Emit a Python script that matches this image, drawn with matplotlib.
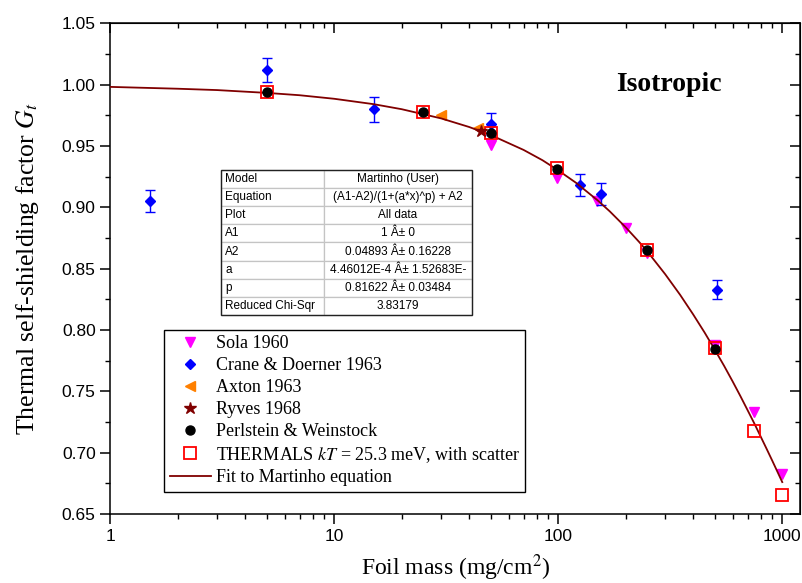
#!/usr/bin/env python3
"""Thermal self-shielding factor vs foil mass, isotropic case."""

import matplotlib
matplotlib.use("Agg")
import matplotlib.pyplot as plt
from matplotlib.lines import Line2D
from matplotlib.patches import Rectangle
from matplotlib.ticker import MultipleLocator, FormatStrFormatter, FuncFormatter, NullFormatter

# --- data ------------------------------------------------------------------
sola_x = [50, 99, 149, 200, 250, 500, 750, 1000]
sola_y = [0.951, 0.924, 0.905, 0.883, 0.863, 0.788, 0.733, 0.683]

crane_x = [1.51, 5, 15, 50, 125, 155, 510]
crane_y = [0.905, 1.012, 0.980, 0.968, 0.918, 0.911, 0.833]
crane_err = [0.009, 0.010, 0.010, 0.009, 0.009, 0.009, 0.008]

axton_x = [30, 44]
axton_y = [0.975, 0.965]

ryves_x = [45]
ryves_y = [0.962]

perl_x = [5, 25, 50, 99, 250, 500]
perl_y = [0.994, 0.978, 0.961, 0.931, 0.865, 0.7845]

therm_x = [5, 25, 50, 99, 250, 500, 750, 1000]
therm_y = [0.994, 0.978, 0.961, 0.932, 0.865, 0.785, 0.718, 0.6655]

# fit curve
fit_x = [1, 2, 3, 5, 7, 10, 15, 20, 30, 40, 50, 70, 85, 100, 120, 150, 170,
         200, 230, 250, 300, 350, 400, 450, 500, 550, 600, 650, 700, 750,
         850, 900, 1000]
fit_y = [0.9983, 0.9968, 0.9957, 0.9934, 0.9915, 0.9886, 0.9842, 0.9801,
         0.9726, 0.9656, 0.9590, 0.9469, 0.9385, 0.9302, 0.9201, 0.9057,
         0.8967, 0.8838, 0.8717, 0.8640, 0.8456, 0.8287, 0.8128, 0.7980,
         0.7839, 0.7708, 0.7582, 0.7462, 0.7347, 0.7239, 0.7034, 0.6939,
         0.6760]

legend_labels = [
    "Sola 1960",
    "Crane & Doerner 1963",
    "Axton 1963",
    "Ryves 1968",
    "Perlstein & Weinstock",
    "THERMALS $kT$ = 25.3 meV, with scatter",
    "Fit to Martinho equation",
]

table_keys = ["Model", "Equation", "Plot", "A1", "A2", "a", "p", "Reduced Chi-Sqr"]
table_vals = [
    "Martinho (User)",
    "(A1-A2)/(1+(a*x)^p) + A2",
    "All data",
    "1 Â± 0",
    "0.04893 Â± 0.16228",
    "4.46012E-4 Â± 1.52683E-",
    "0.81622 Â± 0.03484",
    "3.83179",
]

SOLA_C = "#ff00ff"
CRANE_C = "#0000ff"
AXTON_C = "#ff8000"
RYVES_C = "#800000"
PERL_C = "black"
THERM_C = "#ff0000"
FIT_C = "#800000"

SERIF = "Liberation Serif"
SANS = "Liberation Sans"

plt.rcParams["mathtext.fontset"] = "stix"

fig = plt.figure(figsize=(8.02, 5.83), dpi=100)
ax = fig.add_axes([0.1375, 0.1184, 0.86, 0.8413])
ax.set_xscale("log")
ax.set_xlim(1, 1200)
ax.set_ylim(0.65, 1.05)

# markers
ax.plot(sola_x, sola_y, ls="none", marker="v", ms=7, color=SOLA_C, zorder=3)
ax.errorbar(crane_x, crane_y, yerr=crane_err, fmt="D", ms=5.5, color=CRANE_C,
            ecolor=CRANE_C, elinewidth=1.0, capsize=3.5, capthick=1.0, zorder=4)
ax.plot(axton_x, axton_y, ls="none", marker="<", ms=7.5, color=AXTON_C, zorder=3)
ax.plot(fit_x, fit_y, color=FIT_C, lw=1.3, zorder=4.5)
ax.plot(therm_x, therm_y, ls="none", marker="s", ms=8.5, mfc="none",
        mec=THERM_C, mew=1.3, zorder=5)
ax.plot(perl_x, perl_y, ls="none", marker="o", ms=6.5, color=PERL_C, zorder=6)
ax.plot(ryves_x, ryves_y, ls="none", marker="*", ms=9, color=RYVES_C, zorder=7)

# axes styling
for sp in ax.spines.values():
    sp.set_linewidth(1.1)
ax.xaxis.set_major_formatter(FuncFormatter(lambda v, p: f"{v:g}"))
ax.xaxis.set_minor_formatter(NullFormatter())
ax.yaxis.set_major_locator(MultipleLocator(0.05))
ax.yaxis.set_minor_locator(MultipleLocator(0.025))
ax.yaxis.set_major_formatter(FormatStrFormatter("%.2f"))
ax.tick_params(which="major", direction="out", length=7.5, width=1.1,
               labelsize=12.5, pad=3)
ax.tick_params(which="minor", direction="out", length=3.8, width=1.0)
for lab in ax.get_xticklabels() + ax.get_yticklabels():
    lab.set_fontfamily(SANS)

top = ax.secondary_xaxis("top")
top.tick_params(which="major", direction="in", length=7, width=1.1, labeltop=False)
top.tick_params(which="minor", direction="in", length=3.8, width=1.0)
top.xaxis.set_major_formatter(NullFormatter())
top.xaxis.set_minor_formatter(NullFormatter())

right = ax.secondary_yaxis("right")
right.yaxis.set_major_locator(MultipleLocator(0.05))
right.yaxis.set_minor_locator(MultipleLocator(0.025))
right.tick_params(which="major", direction="in", length=7, width=1.1, labelright=False)
right.tick_params(which="minor", direction="in", length=3.8, width=1.0)
right.yaxis.set_major_formatter(NullFormatter())

ax.set_xlabel("Foil mass (mg/cm$^2$)", fontfamily=SERIF, fontsize=17)
ax.set_ylabel("Thermal self-shielding factor $G_t$", fontfamily=SERIF, fontsize=18.5)
ax.xaxis.set_label_coords(0.5, -0.079)
ax.yaxis.set_label_coords(-0.1, 0.5)

ax.text(0.81, 0.875, "Isotropic", transform=ax.transAxes, ha="center", va="center",
        fontfamily=SERIF, fontsize=20, fontweight="bold")

# fit parameter table
tb_box = [0.1605, 0.4057, 0.3635, 0.2956]
tab = ax.table(cellText=[[k, v] for k, v in zip(table_keys, table_vals)],
               colWidths=[0.411, 0.589], bbox=tb_box, zorder=9)
tab.auto_set_font_size(False)
tab.set_fontsize(8.5)
for (r, c), cell in tab.get_celld().items():
    cell.set_edgecolor("#c4c4c4")
    cell.set_linewidth(0.9)
    cell.set_facecolor("white")
    cell.get_text().set_fontfamily(SANS)
    if c == 0:
        cell.get_text().set_ha("left")
        cell.PAD = 0.04
    else:
        cell.get_text().set_ha("center")
ax.add_patch(Rectangle((tb_box[0], tb_box[1]), tb_box[2], tb_box[3],
                       transform=ax.transAxes, fill=False, ec="#222222",
                       lw=1.0, zorder=10))

# legend
handles = [
    Line2D([], [], ls="none", marker="v", ms=7, color=SOLA_C),
    Line2D([], [], ls="none", marker="D", ms=5.5, color=CRANE_C),
    Line2D([], [], ls="none", marker="<", ms=7.5, color=AXTON_C),
    Line2D([], [], ls="none", marker="*", ms=9, color=RYVES_C),
    Line2D([], [], ls="none", marker="o", ms=6.5, color=PERL_C),
    Line2D([], [], ls="none", marker="s", ms=8.5, mfc="none", mec=THERM_C, mew=1.3),
    Line2D([], [], color=FIT_C, lw=1.3),
]
leg = ax.legend(handles, legend_labels, loc="upper left",
                bbox_to_anchor=(0.0783, 0.3751), prop={"family": SERIF, "size": 13},
                frameon=True, fancybox=False, edgecolor="black", framealpha=1,
                borderpad=0.3, labelspacing=0.27, handlelength=2.3,
                handletextpad=0.25, borderaxespad=0)
leg.get_frame().set_linewidth(1.0)
leg.set_zorder(10)

fig.savefig("out.png", dpi=100)
